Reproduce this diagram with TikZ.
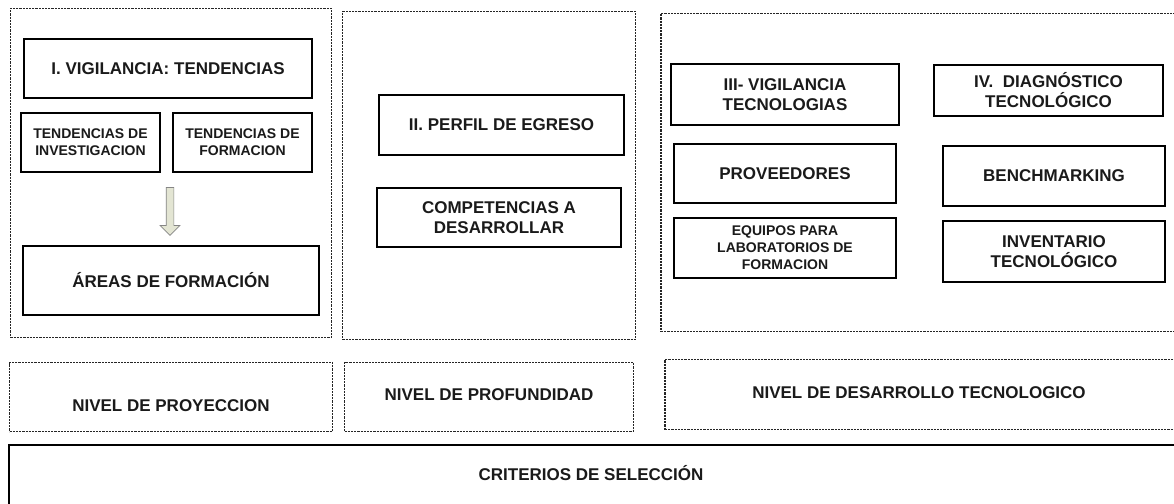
\documentclass[tikz,border=0pt]{standalone}
\usepackage{fontspec}
\setmainfont{Liberation Sans}
\usetikzlibrary{shapes.arrows}
\definecolor{txt}{HTML}{1A1A1A}
\definecolor{dgray}{HTML}{252525}
\definecolor{arrfill}{HTML}{E3E5D3}
\definecolor{arrline}{HTML}{858585}
\begin{document}
\begin{tikzpicture}[x=1pt,y=-1pt,
  solidbox/.style={draw=black, line width=2.1pt, align=center, inner sep=0pt,
    font=\fontsize{17}{20}\selectfont\bfseries, text=txt},
  smalltext/.style={font=\fontsize{14}{17}\selectfont\bfseries},
  dashbox/.style={draw=dgray, line width=1.1pt, dash pattern=on 2.2pt off 1pt, inner sep=0pt},
  lbl/.style={font=\fontsize{17}{20}\selectfont\bfseries, text=txt, inner sep=0pt, align=center},
  blockarrow/.style={single arrow, shape border rotate=270, draw=arrline, fill=arrfill,
    line width=0.7pt, inner sep=3.5pt, single arrow head extend=6pt, minimum height=48pt}]
\useasboundingbox (0,0) rectangle (1174,503);
\clip (0,0) rectangle (1174,503);
\fill[white] (0,0) rectangle (1174,503);

% ---- column I ----
\node[dashbox, minimum width=321pt, minimum height=329pt] (colI) at (171,173) {};
\node[solidbox, minimum width=288pt, minimum height=59pt] (vig) at (168,68.5) {I. VIGILANCIA: TENDENCIAS};
\node[solidbox, smalltext, minimum width=139pt, minimum height=59pt] (tinv) at (90.5,142.5) {TENDENCIAS DE\\INVESTIGACION};
\node[solidbox, smalltext, minimum width=139pt, minimum height=59pt] (tfor) at (242.5,142.5) {TENDENCIAS DE\\FORMACION};
\node[blockarrow] (arr) at (170,209.5) {};
\node[solidbox, minimum width=296pt, minimum height=69pt] (areas) at (171,280.5) {ÁREAS DE FORMACIÓN};
\node[dashbox, minimum width=323pt, minimum height=69pt] (nproy) at (171,397) {};
\node[lbl] (nproyt) at (171,406) {NIVEL DE PROYECCION};

% ---- column II ----
\node[dashbox, minimum width=293pt, minimum height=328pt] (colII) at (489,175.5) {};
\node[solidbox, minimum width=245pt, minimum height=60pt] (perfil) at (501.5,125) {II. PERFIL DE EGRESO};
\node[solidbox, minimum width=244pt, minimum height=59pt] (comp) at (499,217.5) {COMPETENCIAS A\\DESARROLLAR};
\node[dashbox, minimum width=289pt, minimum height=69pt] (nprof) at (489,397) {};
\node[lbl] (nproft) at (489,395) {NIVEL DE PROFUNDIDAD};

% ---- columns III / IV ----
\node[dashbox, minimum width=519pt, minimum height=318pt] (colIII) at (920.5,172.5) {};
\node[solidbox, minimum width=228pt, minimum height=61pt] (vtec) at (785,94.5) {III- VIGILANCIA\\TECNOLOGIAS};
\node[solidbox, minimum width=229pt, minimum height=51pt] (diag) at (1048.5,90.5) {IV.\ \ DIAGNÓSTICO\\TECNOLÓGICO};
\node[solidbox, minimum width=222pt, minimum height=59pt] (prov) at (785,173.5) {PROVEEDORES};
\node[solidbox, minimum width=222pt, minimum height=60pt] (bench) at (1054,176) {BENCHMARKING};
\node[solidbox, smalltext, minimum width=222pt, minimum height=60pt] (equip) at (785,248) {EQUIPOS PARA\\LABORATORIOS DE\\FORMACION};
\node[solidbox, minimum width=222pt, minimum height=61pt] (inv) at (1054,251.5) {INVENTARIO\\TECNOLÓGICO};
\node[dashbox, minimum width=515pt, minimum height=70pt] (ndes) at (922.5,394.5) {};
\node[lbl] (ndest) at (919,393) {NIVEL DE DESARROLLO TECNOLOGICO};

% ---- bottom ----
\node[solidbox, minimum width=1171pt, minimum height=60pt] (crit) at (594.5,475) {};
\node[lbl] (critt) at (591,473) {CRITERIOS DE SELECCIÓN};
\end{tikzpicture}
\end{document}
